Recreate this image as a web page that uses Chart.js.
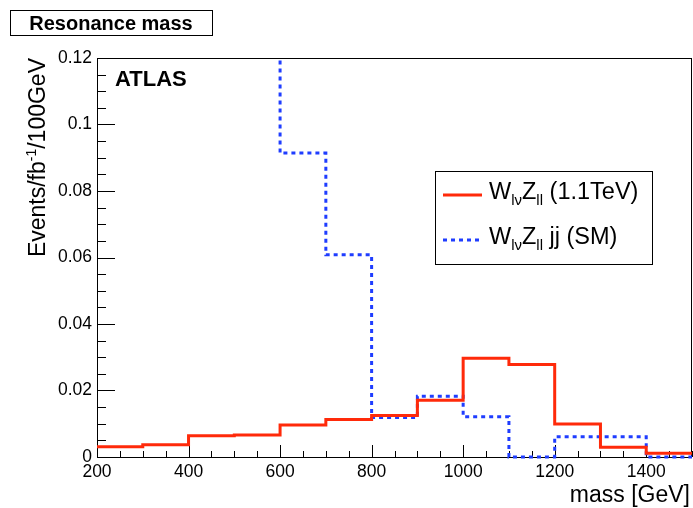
<!DOCTYPE html>
<html><head><meta charset="utf-8">
<script src="https://cdn.jsdelivr.net/npm/chart.js@4"></script>
<style>html,body{margin:0;padding:0;background:#fff;}canvas{display:block;}</style>
</head><body>
<canvas id="c" width="693" height="508"></canvas>
<script>
// ---- data ----
const binEdges = [200,300,400,500,600,700,800,900,1000,1100,1200,1300,1400,1500];
const signalWZ = [0.0031,0.0037,0.0064,0.0066,0.0096,0.0113,0.0125,0.0171,0.0297,0.0278,0.0099,0.0029,0.0011];
// bins 200-600 of the SM curve are off the top of the frame (> 0.12), values estimated
const smWZjj   = [0.30,0.28,0.22,0.16,0.0914,0.0608,0.0119,0.0183,0.0121,0.0,0.0061,0.0061,0.0];
const xTickValues = [200,400,600,800,1000,1200,1400];
const xTickLabels = ['200','400','600','800','1000','1200','1400'];
const yTickValues = [0,0.02,0.04,0.06,0.08,0.1,0.12];
const yTickLabels = ['0','0.02','0.04','0.06','0.08','0.1','0.12'];
const seriesNames = ['WlvZll (1.1TeV)','WlvZll jj (SM)'];
const titleText = 'Resonance mass';
const xTitle = 'mass [GeV]';

const FONT = '"Liberation Sans", Arial, Helvetica, sans-serif';
const RED = '#ff2a0a';
const BLUE = '#1f3dff';

function toSteps(vals){
  return binEdges.map((e,i)=>({x:e, y:vals[Math.min(i, vals.length-1)]}));
}

function richText(ctx, x, y, segs, size){
  let cx = x;
  for (const s of segs){
    const fs = s.sub ? Math.round(size*0.62) : size;
    ctx.font = fs + 'px ' + FONT;
    ctx.fillText(s.t, cx, y + (s.sub ? size*0.25 : 0));
    cx += ctx.measureText(s.t).width;
  }
}

const decor = {
  id:'decor',
  beforeDatasetsDraw(chart){
    const {ctx, chartArea:a, scales:{x, y}} = chart;
    ctx.save();
    ctx.strokeStyle = '#000'; ctx.lineWidth = 1;
    ctx.strokeRect(a.left+0.5, a.top+0.5, a.right-a.left-1, a.bottom-a.top);
    ctx.beginPath();
    for (let v = 0; v <= 0.12+1e-9; v += 0.005){
      const major = Math.abs(v/0.02 - Math.round(v/0.02)) < 1e-6;
      const py = Math.round(y.getPixelForValue(v)) + 0.5;
      ctx.moveTo(a.left, py); ctx.lineTo(a.left + (major?18:9), py);
    }
    for (let v = 200; v <= 1500; v += 50){
      const major = v % 200 === 0;
      const px = Math.round(x.getPixelForValue(v)) + 0.5;
      ctx.moveTo(px, a.bottom); ctx.lineTo(px, a.bottom - (major?12:6));
    }
    ctx.stroke();
    ctx.restore();
  },
  afterDraw(chart){
    const {ctx} = chart;
    ctx.save();
    ctx.fillStyle = '#000';
    // title box
    ctx.strokeStyle = '#000'; ctx.lineWidth = 1;
    ctx.strokeRect(10.5, 10.5, 202, 25);
    ctx.font = 'bold 20px ' + FONT;
    ctx.textAlign = 'center'; ctx.textBaseline = 'alphabetic';
    ctx.fillText(titleText, 111, 30);
    // ATLAS
    ctx.textAlign = 'left';
    ctx.font = 'bold 22px ' + FONT;
    ctx.fillText('ATLAS', 115, 86);
    // x title
    ctx.textAlign = 'right';
    ctx.font = '23px ' + FONT;
    ctx.fillText(xTitle, 690, 502);
    // y title
    ctx.save();
    ctx.translate(45, 58);
    ctx.rotate(-Math.PI/2);
    ctx.textAlign = 'left';
    const segs = [{t:'Events/fb'},{t:'-1',sup:true},{t:'/100GeV'}];
    let w = 0;
    for (const s of segs){ ctx.font = (s.sup?14:23)+'px '+FONT; w += ctx.measureText(s.t).width; }
    let cx = -w;
    for (const s of segs){
      ctx.font = (s.sup?14:23)+'px '+FONT;
      ctx.fillText(s.t, cx, s.sup ? -9 : 0);
      cx += ctx.measureText(s.t).width;
    }
    ctx.restore();
    // legend
    ctx.fillStyle = '#fff';
    ctx.fillRect(435, 171, 218, 94);
    ctx.strokeStyle = '#000'; ctx.lineWidth = 1;
    ctx.strokeRect(435.5, 171.5, 217, 93);
    ctx.lineWidth = 3;
    ctx.strokeStyle = RED; ctx.setLineDash([]);
    ctx.beginPath(); ctx.moveTo(443, 195); ctx.lineTo(482, 195); ctx.stroke();
    ctx.strokeStyle = BLUE; ctx.setLineDash([4,4]);
    ctx.beginPath(); ctx.moveTo(443, 240); ctx.lineTo(482, 240); ctx.stroke();
    ctx.setLineDash([]);
    ctx.fillStyle = '#000'; ctx.textAlign = 'left';
    richText(ctx, 489, 199, [{t:'W'},{t:'lν',sub:true},{t:'Z'},{t:'ll',sub:true},{t:' (1.1TeV)'}], 23.5);
    richText(ctx, 489, 244, [{t:'W'},{t:'lν',sub:true},{t:'Z'},{t:'ll',sub:true},{t:' jj (SM)'}], 23.5);
    ctx.restore();
  }
};

new Chart(document.getElementById('c'), {
  type:'line',
  data:{
    datasets:[
      {label:seriesNames[0], data:toSteps(signalWZ), stepped:true, borderColor:RED, borderWidth:3, pointRadius:0, fill:false, clip:{left:0,top:0,right:0,bottom:3}},
      {label:seriesNames[1], data:toSteps(smWZjj), stepped:true, borderColor:BLUE, borderWidth:3, borderDash:[4,4], pointRadius:0, fill:false, clip:{left:0,top:0,right:0,bottom:3}}
    ]
  },
  options:{
    responsive:false, animation:false, devicePixelRatio:1,
    layout:{padding:{left:0, top:58, right:1, bottom:0}},
    plugins:{legend:{display:false}, tooltip:{enabled:false}},
    scales:{
      x:{type:'linear', min:200, max:1500,
        grid:{display:false, drawTicks:false}, border:{display:false},
        afterBuildTicks(s){ s.ticks = xTickValues.map(v=>({value:v})); },
        afterFit(s){ s.height = 51; },
        ticks:{padding:5, maxRotation:0, autoSkip:false, color:'#000', font:{family:FONT, size:17.5},
          callback:(v)=>{ const i = xTickValues.indexOf(v); return i>=0 ? xTickLabels[i] : ''; }}
      },
      y:{type:'linear', min:0, max:0.12,
        grid:{display:false, drawTicks:false}, border:{display:false},
        afterBuildTicks(s){ s.ticks = yTickValues.map(v=>({value:v})); },
        afterFit(s){ s.width = 97; },
        ticks:{padding:5, autoSkip:false, color:'#000', font:{family:FONT, size:17.5},
          callback:(v)=>{ const i = yTickValues.findIndex(t=>Math.abs(t-v)<1e-9); return i>=0 ? yTickLabels[i] : ''; }}
      }
    }
  },
  plugins:[decor]
});
</script>
</body></html>
